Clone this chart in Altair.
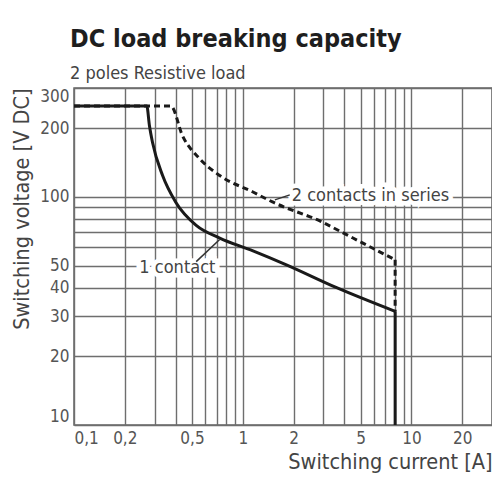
import json
import altair as alt
import pandas as pd

# ---- data ----
one_x = [0.1, 0.27, 0.28, 0.292, 0.335, 0.40, 0.53, 0.73, 1.15, 1.8, 3.6, 8.0]
one_y = [250, 250, 205, 173, 124, 95, 75, 66, 58, 50.5, 40, 31.5]

two_x = [0.1, 0.375, 0.44, 0.555, 0.73, 1.15, 1.5, 2.9, 4.5, 8.0]
two_y = [250, 250, 185, 147, 124, 105, 95, 78, 66, 53]

cutoff_bottom = 10  # both curves drop vertically to the bottom of the chart

label_text = ["1 contact", "2 contacts in series"]
label_x = [0.244, 1.95]
label_y = [48.6, 101]

leader_x = [0.53, 1.55]
leader_y = [52, 97]
leader_x2 = [0.73, 1.9]
leader_y2 = [65, 102]

x_grid = [0.1, 0.2, 0.3, 0.4, 0.5, 0.6, 0.7, 0.8, 0.9,
          1, 2, 3, 4, 5, 6, 7, 8, 9, 10, 20, 30]
x_labels = [0.1, 0.2, 0.5, 1, 2, 5, 10, 20]
y_grid = [10, 20, 30, 40, 50, 60, 70, 80, 90, 100, 200, 300]
y_labels = [10, 20, 30, 40, 50, 100, 200, 300]

FONT = "Liberation Sans Narrow, DejaVu Sans Condensed, Arial Narrow, sans-serif"

one = pd.DataFrame({"x": one_x, "y": one_y})
two = pd.DataFrame({"x": two_x, "y": two_y})
drop_one = pd.DataFrame({"x": [one_x[-1]], "y": [one_y[-1]], "y2": [cutoff_bottom]})
drop_two = pd.DataFrame({"x": [two_x[-1]], "y": [two_y[-1]], "y2": [one_y[-1]]})
labels = pd.DataFrame({"x": label_x, "y": label_y, "t": label_text})
leaders = pd.DataFrame({"x": leader_x, "y": leader_y, "x2": leader_x2, "y2": leader_y2})

xaxis = alt.Axis(
    values=x_grid,
    labelExpr=f"indexof({json.dumps(x_labels)}, datum.value) >= 0 ? replace(format(datum.value, '~g'), '.', ',') : ''",
    title="Switching current [A]",
    titleAnchor="end",
    titlePadding=5,
    labelPadding=5,
    labelFlush=True,
)
yaxis = alt.Axis(
    values=y_grid,
    labelExpr=f"indexof({json.dumps(y_labels)}, datum.value) >= 0 ? format(datum.value, '~g') : ''",
    title="Switching voltage [V DC]",
    titleAnchor="end",
    titlePadding=6,
    labelPadding=5,
    labelFlush=True,
)

X = alt.X("x:Q", scale=alt.Scale(type="log", domain=[0.1, 30]), axis=xaxis)
Y = alt.Y("y:Q", scale=alt.Scale(type="log", domain=[10, 300]), axis=yaxis)

halo = alt.Chart(labels).mark_text(
    align="left", baseline="middle", font=FONT, fontSize=18,
    color="white", stroke="white", strokeWidth=9
).encode(x=X, y=Y, text="t:N")

line1 = alt.Chart(one).transform_window(idx="row_number()").mark_line(
    color="#1a1a1a", strokeWidth=3, interpolate="monotone"
).encode(x=X, y=Y, order=alt.Order("idx:Q"))
line2 = alt.Chart(two).transform_window(idx="row_number()").mark_line(
    color="#1a1a1a", strokeWidth=3, strokeDash=[6, 4], interpolate="monotone"
).encode(x=X, y=Y, order=alt.Order("idx:Q"))

vert1 = alt.Chart(drop_one).mark_rule(color="#1a1a1a", strokeWidth=3).encode(x=X, y=Y, y2="y2:Q")
vert2 = alt.Chart(drop_two).mark_rule(color="#1a1a1a", strokeWidth=3, strokeDash=[6, 4]).encode(x=X, y=Y, y2="y2:Q")

lead = alt.Chart(leaders).mark_rule(color="#333", strokeWidth=1.5).encode(
    x=X, y=Y, x2="x2:Q", y2="y2:Q"
)

txt = alt.Chart(labels).mark_text(
    align="left", baseline="middle", font=FONT, fontSize=18, color="#444"
).encode(x=X, y=Y, text="t:N")

chart = alt.layer(halo, line1, line2, vert1, vert2, lead, txt).properties(
    width=418,
    height=337,
    autosize=alt.AutoSizeParams(type="none"),
    padding={"left": 66, "top": 80, "right": 0, "bottom": 70},
    title=alt.Title(
        "DC load breaking capacity",
        subtitle="2 poles Resistive load",
        anchor="start",
        frame="group",
        dx=-4,
        font=FONT,
        fontSize=25,
        fontWeight="bold",
        color="#1e1e1e",
        subtitleFont=FONT,
        subtitleFontSize=18,
        subtitleColor="#444",
        subtitlePadding=13,
        offset=4,
    ),
).configure_view(stroke="#666", strokeWidth=1.5).configure_axis(
    grid=True,
    gridColor="#6e6e6e",
    gridWidth=1.4,
    domain=False,
    ticks=False,
    labelFont=FONT,
    labelFontSize=17,
    labelColor="#555",
    titleFont=FONT,
    titleFontSize=21.5,
    titleFontWeight="normal",
    titleColor="#444",
)

chart.save("out.html", embed_options={"renderer": "svg", "actions": False})
